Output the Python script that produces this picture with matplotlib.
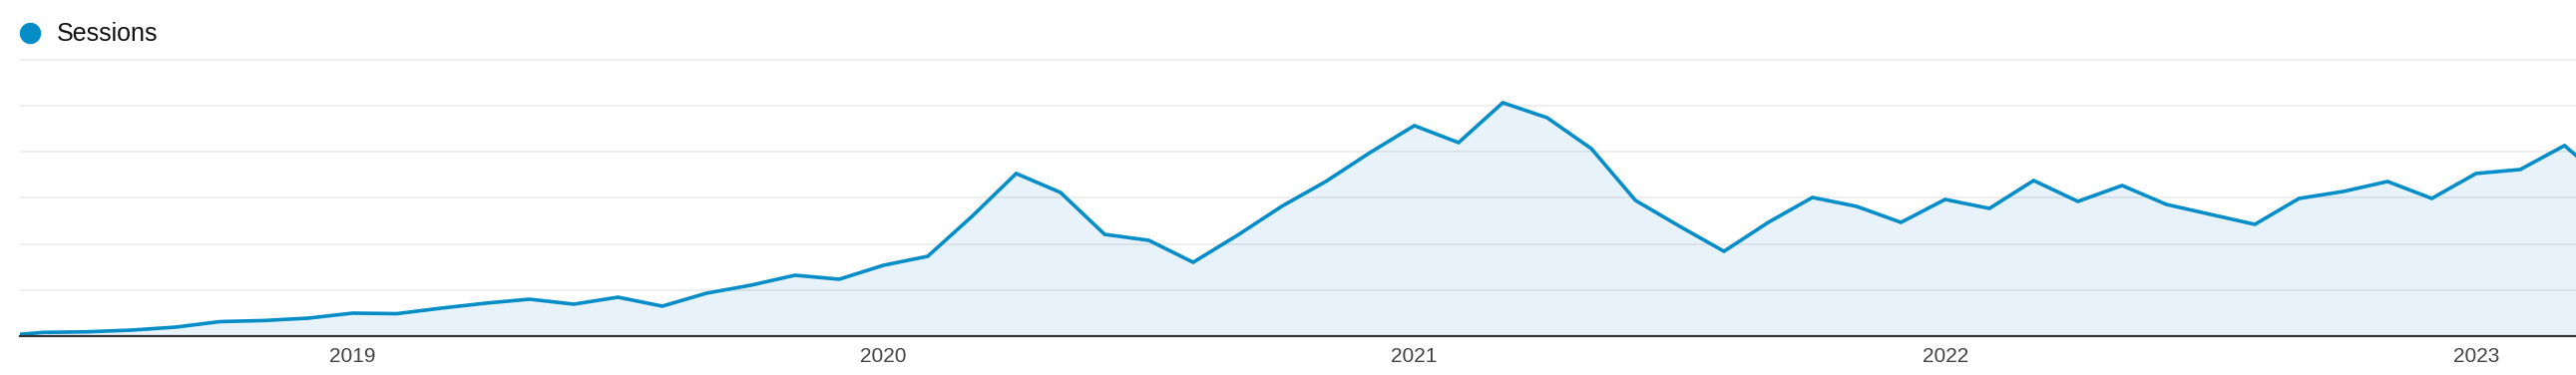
import numpy as np
import pandas as pd
import matplotlib
matplotlib.use("Agg")
import matplotlib.pyplot as plt
from matplotlib.lines import Line2D

# monthly sessions, May 2018 .. Apr 2023
months = pd.period_range("2018-05", "2023-04", freq="M")
sessions = [
    0, 80, 93, 130, 195, 314, 338, 390,                                  # 2018
    498, 487, 606, 714, 801, 693, 844, 650, 931, 1104, 1321, 1234,       # 2019
    1537, 1732, 2598, 3529, 3118, 2208, 2078, 1602, 2187, 2815, 3356, 3984,  # 2020
    4568, 4200, 5066, 4741, 4070, 2944, 2382, 1840, 2468, 3009, 2815, 2468,  # 2021
    2966, 2771, 3377, 2923, 3269, 2858, 2641, 2425, 2988, 3139, 3356, 2988,  # 2022
    3529, 3616, 4135, 3312,                                              # 2023
]
year_labels = ["2019", "2020", "2021", "2022", "2023"]

LINE = "#058dc7"
FILL = "#e8f2fb"
W, H = 2582, 376

plt.rcParams["font.family"] = ["Liberation Sans", "DejaVu Sans"]

fig = plt.figure(figsize=(W / 100, H / 100), dpi=100)
ax = fig.add_axes([20 / W, 39 / H, 1 - 20 / W, (337 - 57.5) / H])

# month index, 0 = Jan 2019
x = np.array([(m.year - 2019) * 12 + m.month - 1 for m in months])
y = np.array(sessions)

ax.fill_between(x, y, color=FILL, lw=0, zorder=1)
ax.plot(x, y, color=LINE, lw=2.6, solid_joinstyle="miter", zorder=3)

ax.set_xlim(-7.52, 50.26)
ax.set_ylim(0, 6050)

# grid sits on top of the fill, under the line
ax.set_yticks(np.arange(1000, 6001, 1000))
for gy in ax.get_yticks():
    ax.axhline(gy, color="black", alpha=0.075, lw=1.3, zorder=2)
ax.tick_params(axis="y", left=False, labelleft=False)

tick_pos = [(int(yr) - 2019) * 12 for yr in year_labels]
ax.set_xticks(tick_pos)
ax.set_xticklabels(year_labels, fontsize=15, color="#444444")
ax.tick_params(axis="x", length=0, pad=8)

for side in ["top", "right", "left"]:
    ax.spines[side].set_visible(False)
ax.spines["bottom"].set_color("#333333")
ax.spines["bottom"].set_linewidth(1.6)
ax.spines["bottom"].set_zorder(4)

# legend
fig.add_artist(Line2D([30 / W], [1 - 33 / H], marker="o", ms=14.4, color=LINE,
                      transform=fig.transFigure))
fig.text(57 / W, 1 - 34 / H, "Sessions", fontsize=18, va="center", ha="left",
         color="#111111")

fig.savefig("out.png", dpi=100, facecolor="white")
